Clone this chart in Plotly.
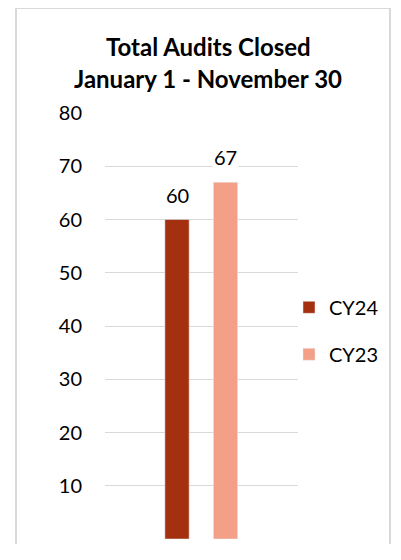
import plotly.graph_objects as go

series = ["CY24", "CY23"]
values = [60, 67]
colors = ["#A5300F", "#F4A088"]
tick_vals = [0, 10, 20, 30, 40, 50, 60, 70, 80]
tick_text = ["", "10", "20", "30", "40", "50", "60", "70", "80"]
title_lines = ["Total Audits Closed", "January 1 - November 30"]

FONT = "Lato"
OFF = 8  # page body margin
W, H = 393, 536
L, R, T, B = 97, 103, 105, 4.5
pw, ph = W - L - R, H - T - B

def px2x(p):
    return (p - OFF - L) / pw

def py2y(p):
    return (H - B - (p - OFF)) / ph

fig = go.Figure()
for s, v, c in zip(series, values, colors):
    fig.add_trace(go.Bar(x=[s], y=[v], name=s, marker_color=c, width=0.5,
                         legendgroup=s, hoverinfo="skip"))
    fig.add_annotation(x=s, y=v, text=str(v), showarrow=False, yanchor="bottom",
                       yshift=11, bgcolor="white", borderpad=1,
                       font=dict(family=FONT, size=20, color="#000000"))

for k, line in enumerate(title_lines):
    fig.add_annotation(xref="paper", yref="paper", x=px2x(208), y=py2y(46 + 32 * k),
                       text="<b>" + line + "</b>", showarrow=False,
                       xanchor="center", yanchor="middle",
                       font=dict(family=FONT, size=24, color="#000000"))

fig.add_shape(type="rect", xref="paper", yref="paper",
              x0=px2x(16), x1=px2x(390), y0=py2y(580), y1=py2y(8),
              line=dict(color="#D9D9D9", width=2), fillcolor="rgba(0,0,0,0)", layer="below")

fig.update_layout(
    width=W, height=H,
    margin=dict(l=L, r=R, t=T, b=B, pad=0),
    paper_bgcolor="white", plot_bgcolor="white",
    barmode="overlay",
    showlegend=True,
    legend=dict(x=px2x(289), y=py2y(288), xanchor="left", yanchor="top",
                font=dict(family=FONT, size=20, color="#000000"),
                tracegroupgap=18, itemwidth=30, bgcolor="rgba(0,0,0,0)"),
    font=dict(family=FONT, color="#000000"),
    xaxis=dict(range=[-1.485, 2.495], showticklabels=False, showgrid=False,
               zeroline=False, showline=False, fixedrange=True),
    yaxis=dict(range=[0, 80], tickvals=tick_vals, ticktext=tick_text,
               showgrid=True, gridcolor="#D9D9D9", gridwidth=1.3,
               zeroline=False, showline=False, ticks="",
               ticklabelstandoff=22,
               tickfont=dict(family=FONT, size=20, color="#000000")),
)

fig.write_html("out.html")
